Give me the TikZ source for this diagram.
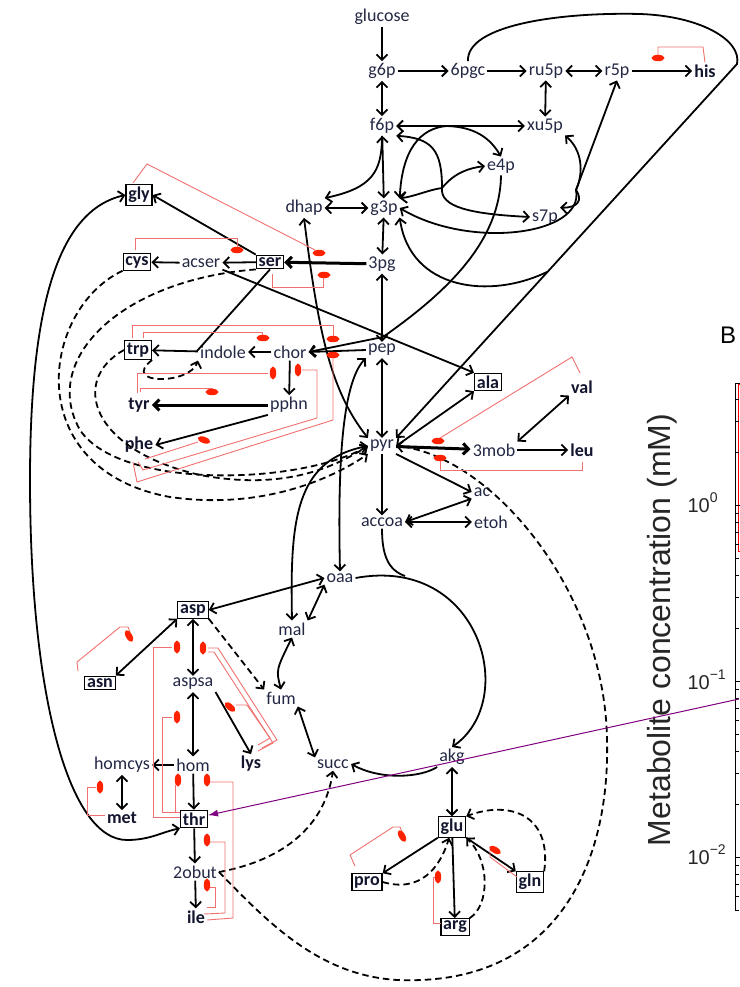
\documentclass[tikz,border=0pt]{standalone}
\usepackage{fontspec}
\setmainfont{Carlito}
\setsansfont{Liberation Sans}
\usetikzlibrary{arrows.meta,calc}
\definecolor{metc}{HTML}{232845}
\definecolor{aac}{HTML}{12152E}
\definecolor{inhc}{HTML}{F07070}
\definecolor{blobc}{HTML}{FF2200}
\definecolor{purp}{HTML}{800080}
\newcommand\mfont{\fontsize{18}{20}\selectfont}
\newcommand\inhblob[3]{\fill[blobc, rotate around={#3:(#1,#2)}] (#1,#2) ellipse (6.5 and 3.2);}
\tikzset{
  m/.style={font=\mfont, text=metc, inner sep=2pt},
  a/.style={font=\mfont\bfseries, text=aac, inner sep=2pt},
  bx/.style={a, draw=black, line width=1.2pt, inner sep=2.3pt},
  cn/.style={line width=1.8pt},
  ar/.style={cn,->},
  dar/.style={cn,<->},
  thk/.style={line width=3pt,->},
  dsh/.style={cn,->,dash pattern=on 6.5pt off 4pt},
  inh/.style={draw=inhc,line width=0.9pt},
}
\begin{document}
\begin{tikzpicture}[x=1pt,y=-1pt,>={Straight Barb[length=5.5pt,width=11pt]}]
\useasboundingbox (0,0) rectangle (739,987);
% ---------- nodes
\node[m] (glucose) at (382,17) {glucose};
\node[m] (g6p) at (382,71) {g6p};
\node[m] (n6pgc) at (468,71) {6pgc};
\node[m] (ru5p) at (546,71) {ru5p};
\node[m] (r5p) at (617,71) {r5p};
\node[a] (his) at (705,71) {his};
\node[m] (f6p) at (382,126) {f6p};
\node[m] (xu5p) at (545,126) {xu5p};
\node[m] (e4p) at (501,166) {e4p};
\node[m] (dhap) at (304,208) {dhap};
\node[m] (g3p) at (384,208) {g3p};
\node[m] (s7p) at (545,217) {s7p};
\node[bx] (gly) at (139,195) {gly};
\node[bx] (cys) at (137,262) {cys};
\node[m] (acser) at (201,263) {acser};
\node[bx] (ser) at (270,262) {ser};
\node[m] (n3pg) at (382,264) {3pg};
\node[bx] (trp) at (138,350) {trp};
\node[m] (indole) at (223,352) {indole};
\node[m] (chor) at (290,352) {chor};
\node[m] (pep) at (382,350) {pep};
\node[a] (tyr) at (139,405) {tyr};
\node[m] (pphn) at (289,405) {pphn};
\node[a] (phe) at (139,445) {phe};
\node[bx] (ala) at (488,382) {ala};
\node[a] (val) at (582,387) {val};
\node[m] (pyr) at (382,446) {pyr};
\node[m] (n3mob) at (494,450) {3mob};
\node[a] (leu) at (582,450) {leu};
\node[m] (ac) at (482,492) {ac};
\node[m] (accoa) at (382,522) {accoa};
\node[m] (etoh) at (491,522) {etoh};
\node[m] (oaa) at (340,578) {oaa};
\node[bx] (asp) at (193,610) {asp};
\node[m] (mal) at (292,629) {mal};
\node[bx] (asn) at (100,683) {asn};
\node[m] (aspsa) at (193,684) {aspsa};
\node[m] (fum) at (281,698) {fum};
\node[a] (lys) at (251,764) {lys};
\node[m] (homcys) at (122,765) {homcys};
\node[m] (hom) at (193,765) {hom};
\node[m] (succ) at (333,764) {succ};
\node[m] (akg) at (452,757) {akg};
\node[a] (met) at (122,818) {met};
\node[bx] (thr) at (194,819) {thr};
\node[bx] (glu) at (452,827) {glu};
\node[m] (n2obut) at (195,872) {2obut};
\node[bx] (pro) at (367,882) {pro};
\node[bx] (gln) at (530,882) {gln};
\node[bx] (arg) at (455,927) {arg};
\node[a] (ile) at (196,917) {ile};
% ---------- upper part
\draw[ar] (glucose) -- (g6p);
\draw[dar] (g6p) -- (f6p);
\draw[ar] (g6p) -- (n6pgc);
\draw[ar] (n6pgc) -- (ru5p);
\draw[dar] (ru5p) -- (r5p);
\draw[ar] (r5p) -- (his);
\draw[dar] (ru5p) -- (xu5p);
\draw[dar] (f6p) -- (xu5p);
\coordinate (edturn) at (737,64);
\draw[ar] (n6pgc.north) .. controls (466,25) and (560,12) .. (640,14) .. controls (700,16) and (742,40) .. (edturn) -- (pyr.north east);
\coordinate (edj) at ($(edturn)!0.555!(pyr.north east)$);
\draw[ar] (edj) .. controls (490,300) and (410,290) .. (g3p.south east);
\coordinate (tkj) at (576,190);
\draw[ar] (tkj) -- (r5p.south);
\draw[ar] (tkj) .. controls (584,172) and (582,150) .. (xu5p.south east);
\draw[ar] (tkj) .. controls (583,200) and (578,208) .. (s7p.north east);
\draw[ar] (tkj) .. controls (585,235) and (470,250) .. (g3p.east);
\coordinate (tkb) at (447,126);
\draw[ar] (tkb) .. controls (475,127) and (490,138) .. (e4p.north);
\draw[ar] (tkb) .. controls (420,128) and (402,150) .. (g3p.north east);
\coordinate (taj) at (442,188);
\draw[ar] (taj) .. controls (442,150) and (432,138) .. (f6p.south east);
\draw[ar] (taj) .. controls (440,207) and (470,214) .. (s7p.west);
\draw[ar] (taj) .. controls (455,172) and (470,168) .. (e4p.west);
\draw[ar] (taj) .. controls (428,190) and (416,196) .. (g3p.north east);
\draw[dar] (f6p) -- (g3p);
\draw[ar] (f6p.south) .. controls (382,172) and (372,188) .. (dhap.north east);
\draw[dar] (dhap) -- (g3p);
\draw[dar] (g3p) -- (n3pg);
\draw[dar] (n3pg) -- (pep);
\draw[dar] (pep) -- (pyr);
\draw[ar] (pyr) -- (accoa);
% serine family
\draw[thk] (n3pg) -- (ser);
\draw[ar] (ser) -- (acser);
\draw[ar] (acser) -- (cys);
\draw[ar] (ser.north west) -- (gly.east);
\draw[ar] (acser.south east) -- (ala.north west);
\coordinate (trpj) at (197,351);
\draw[ar] (indole) -- (trp);
\draw[cn] (ser.south) -- (trpj);
% aromatics
\coordinate (pepj) at (383,337);
\draw[cn] (e4p.south) .. controls (500,240) and (450,290) .. (pepj);
\draw[ar] (pepj) -- (chor.east);
\draw[ar] (pep.west) -- (chor.east);
\draw[ar] (chor) -- (indole);
\draw[ar] (chor) -- (pphn);
\draw[thk] (pphn) -- (tyr);
\draw[ar] (pphn.south west) -- (phe.east);
% pyruvate
\draw[thk] (pyr) -- (n3mob);
\draw[ar] (n3mob) -- (leu);
\draw[dar] (n3mob.north east) -- (val.south west);
\draw[ar] (pyr.south east) -- (ac.west);
\draw[dar] (accoa.east) -- (ac.south west);
\draw[dar] (accoa) -- (etoh);
\draw[dar] (pyr.east) -- (ala.south west);
\draw[dar] (dhap.south) .. controls (318,330) and (330,390) .. (pyr.north west);
\draw[dar] (pep.south west) .. controls (340,385) and (338,480) .. (oaa.north);
\draw[dar] (pyr.west) .. controls (295,460) and (290,520) .. (mal.north);
% TCA
\coordinate (citj) at (405,576);
\draw[ar] (oaa.east) .. controls (480,555) and (520,700) .. (akg.north);
\draw[cn] (accoa.south) .. controls (382,555) and (388,570) .. (citj);
\draw[ar] (akg.south west) .. controls (420,778) and (380,780) .. (succ.east);
\draw[dar] (succ.north west) -- (fum.south east);
\draw[dar] (fum.north) .. controls (276,670) .. (mal.south);
\draw[dar] (mal.north east) -- (oaa.south west);
\draw[dar] (asp.east) -- (oaa.west);
% aspartate family
\draw[dar] (asp) -- (aspsa);
\draw[dsh] (asp.south east) -- (fum.north west);
\draw[dar] (asp.south west) -- (asn.north east);
\draw[dar] (aspsa) -- (hom);
\draw[ar] (aspsa.south east) -- (lys.north);
\draw[ar] (hom) -- (homcys);
\draw[dar] (homcys) -- (met);
\draw[ar] (hom) -- (thr);
\draw[ar] (thr) -- (n2obut);
\draw[ar] (n2obut) -- (ile);
\draw[dar] (gly.west) .. controls (60,210) and (30,300) .. (30,480) .. controls (30,700) and (70,840) .. (127,840) .. controls (150,840) and (162,832) .. (thr.south west);
% glutamate family
\draw[dar] (akg) -- (glu);
\draw[ar] (glu.south west) -- (pro.north east);
\draw[ar] (glu) -- (arg);
\draw[ar] (glu.south east) -- (gln.north west);
\draw[dsh] (pro.east) .. controls (420,893) and (440,868) .. (glu.255);
\draw[dsh] (arg.north east) .. controls (490,905) and (490,860) .. (glu.south east);
\draw[dsh] (gln.north east) .. controls (552,815) and (510,800) .. (glu.north east);
% dashed degradation
\draw[dsh] (n2obut.east) .. controls (285,860) and (325,825) .. (succ.south);
\draw[dsh] (n2obut.east) .. controls (275,930) and (330,985) .. (420,980) .. controls (560,975) and (610,860) .. (607,740) .. controls (605,590) and (490,455) .. (pyr.east);
\draw[dsh] (cys.south west) .. controls (40,310) and (20,470) .. (170,497) .. controls (260,510) and (330,480) .. (pyr.south west);
\draw[dsh] (ser.south west) .. controls (120,280) and (40,360) .. (80,430) .. controls (120,490) and (300,485) .. (pyr.west);
\draw[dsh] (trp.west) .. controls (70,380) and (90,450) .. (200,475) .. controls (280,490) and (330,470) .. (pyr.west);
\draw[dsh] (trp.south east) .. controls (120,385) and (190,385) .. (indole.south west);
% ---------- inhibitions
\draw[inh] (his.north) -- (703,47) -- (658,47) -- (658,55); \inhblob{658}{58}{0}
\draw[inh] (133,183) -- (147,164) -- (315,250); \inhblob{319}{253}{0}
\draw[inh] (135,250) -- (135,238) -- (237,238) -- (237,247); \inhblob{237}{250}{0}
\draw[inh] (272,274) -- (272,287) -- (323,287) -- (323,278); \inhblob{324}{275}{0}
\draw[inh] (132,338) -- (132,325) -- (333,325) -- (333,336); \inhblob{333}{339}{0}
\draw[inh] (143,338) -- (143,332) -- (262,332) -- (262,335); \inhblob{263}{338}{0}
\draw[inh] (137,393) -- (137,373) -- (268,373); \inhblob{273}{373}{90}
\draw[inh] (140,392) -- (140,388) -- (212,388) -- (212,390); \inhblob{212}{392}{0}
\draw[inh] (145,459) -- (198,442); \inhblob{204}{440}{-20}
\draw[inh] (138,462) -- (143,470) -- (317,418) -- (317,370) -- (302,370); \inhblob{298}{370}{90}
\draw[inh] (133,462) -- (137,482) -- (333,420) -- (333,358); \inhblob{333}{355}{0}
\draw[inh] (580,373) -- (572,357) -- (440,438); \inhblob{438}{441}{0}
\draw[inh] (582,462) -- (582,470) -- (440,470) -- (440,461); \inhblob{440}{458}{0}
\draw[inh] (78,671) -- (77,662) -- (120,627) -- (128,627) -- (130,632); \inhblob{129}{636}{-60}
\draw[inh] (thr.west |- 0,817) -- (153,817) -- (153,647) -- (172,647); \inhblob{177}{647}{90}
\draw[inh] (thr.west |- 0,812) -- (162,812) -- (162,717) -- (172,717); \inhblob{177}{717}{90}
\draw[inh] (175,812) -- (175,785); \inhblob{178}{780}{90}
\draw[inh] (262,748) -- (277,740) -- (218,648) -- (208,648); \inhblob{203}{648}{90}
\draw[inh] (258,751) -- (273,743) -- (214,652) -- (208,652);
\draw[inh] (258,745) -- (270,738) -- (247,705) -- (236,705); \inhblob{230}{707}{-40}
\draw[inh] (210,782) -- (233,782) -- (233,918) -- (207,920); \inhblob{207}{780}{90}
\draw[inh] (210,842) -- (225,842) -- (225,913) -- (204,914); \inhblob{207}{840}{90}
\draw[inh] (210,887) -- (215,887) -- (215,907) -- (207,907); \inhblob{207}{885}{90}
\draw[inh] (96,787) -- (87,787) -- (87,815) -- (105,815); \inhblob{100}{787}{90}
\draw[inh] (355,866) -- (350,855) -- (393,827) -- (400,827) -- (402,832); \inhblob{402}{836}{-60}
\draw[inh] (441,923) -- (433,923) -- (433,877) -- (436,877); \inhblob{438}{877}{90}
\draw[inh] (517,877) -- (490,857) -- (490,850) -- (493,850); \inhblob{495}{850}{-30}
% ---------- panel B
\node[font=\sffamily\fontsize{24}{24}\selectfont] (Blab) at (728,335) {B};
\node[font=\sffamily\fontsize{32}{32}\selectfont, text=black!85, rotate=90] (ylab) at (662,630) {Metabolite concentration (mM)};
\node[font=\sffamily\fontsize{20}{20}\selectfont, text=black!85, anchor=west] (t0) at (684,503) {10\raisebox{0.5em}{\fontsize{14}{14}\selectfont 0}};
\node[font=\sffamily\fontsize{20}{20}\selectfont, text=black!85, anchor=west] (t1) at (684,680) {10\raisebox{0.5em}{\fontsize{14}{14}\selectfont −1}};
\node[font=\sffamily\fontsize{20}{20}\selectfont, text=black!85, anchor=west] (t2) at (684,855) {10\raisebox{0.5em}{\fontsize{14}{14}\selectfont −2}};
\draw[red, line width=0.8pt] (738,551) -- (738,384) -- (750,384);
\draw[red, line width=0.8pt] (738,551) -- (750,551);
\draw[line width=0.8pt] (750,383) -- (735,383) -- (735,910);
\foreach \yy in {505,681,857} \draw[line width=0.7pt] (735,\yy) -- (742,\yy);
\foreach \yy in {399,421,452,513,522,532,544,558,575,597,628,689,698,708,720,734,751,773,804,865,874,884,896,910} \draw[line width=0.6pt] (735,\yy) -- (739,\yy);
% purple pointer
\coordinate (pstart) at (739,699);
\draw[purp, line width=1pt, -{Latex[length=10pt,width=7pt]}] (pstart) -- (thr.15);
\end{tikzpicture}
\end{document}
